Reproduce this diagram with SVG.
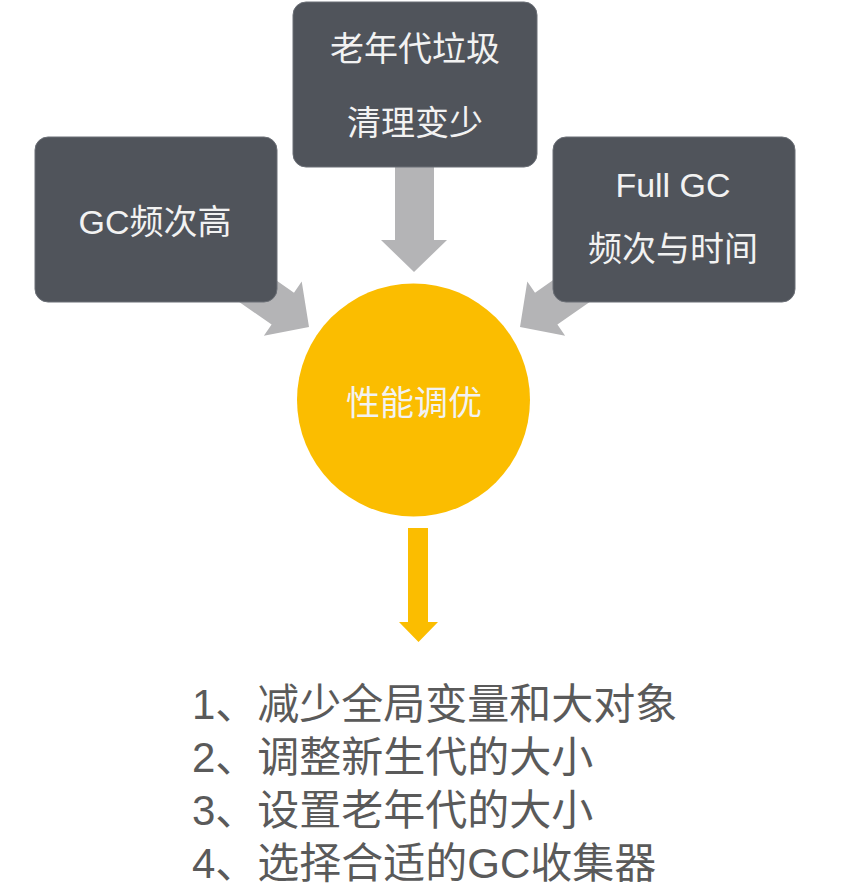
<svg xmlns="http://www.w3.org/2000/svg" width="856" height="893" viewBox="0 0 856 893">
<defs>
<style>
.box{fill:#50545b;stroke:#6b6f76;stroke-width:1}
.lbl{font-family:"Liberation Sans","Noto Sans CJK SC",sans-serif;font-size:34px;fill:#f2f2f2;text-anchor:middle}
.gray{fill:#b4b4b6}
.list{font-family:"Liberation Sans","Noto Sans CJK SC",sans-serif;font-size:42px;fill:#5a5a5a}
</style>
<polygon id="garrow" points="-19.5,-110 19.5,-110 19.5,-32 33,-32 0,0 -33,-32 -19.5,-32"/>
</defs>
<rect width="856" height="893" fill="#ffffff"/>
<g id="connectors">
<use href="#garrow" class="gray" transform="translate(309,327) rotate(-55)"/>
<use href="#garrow" class="gray" transform="translate(520,327) rotate(55)"/>
<polygon class="gray" points="395,160 434,160 434,240 447,240 414,272 381,240 395,240"/>
<polygon fill="#fbbd00" points="408,528 428,528 428,622 438,622 418.5,642 399,622 408,622"/>
</g>
<g id="node-old">
<rect class="box" x="293" y="2" width="244" height="165" rx="13"/>
<text class="lbl" x="415" y="61">老年代垃圾</text>
<text class="lbl" x="415" y="135">清理变少</text>
</g>
<g id="node-gc">
<rect class="box" x="35" y="137" width="242" height="165" rx="13"/>
<text class="lbl" x="155" y="234">GC频次高</text>
</g>
<g id="node-full">
<rect class="box" x="553" y="137" width="242" height="165" rx="13"/>
<text class="lbl" x="673" y="197">Full GC</text>
<text class="lbl" x="673" y="261">频次与时间</text>
</g>
<g id="node-tune">
<circle cx="413.5" cy="400" r="116.5" fill="#fbbd00"/>
<text class="lbl" x="414" y="415" fill="#fdf6e0">性能调优</text>
</g>
<g id="list">
<text class="list" x="192" y="719">1、减少全局变量和大对象</text>
<text class="list" x="192" y="772">2、调整新生代的大小</text>
<text class="list" x="192" y="825">3、设置老年代的大小</text>
<text class="list" x="192" y="878">4、选择合适的GC收集器</text>
</g>
</svg>
